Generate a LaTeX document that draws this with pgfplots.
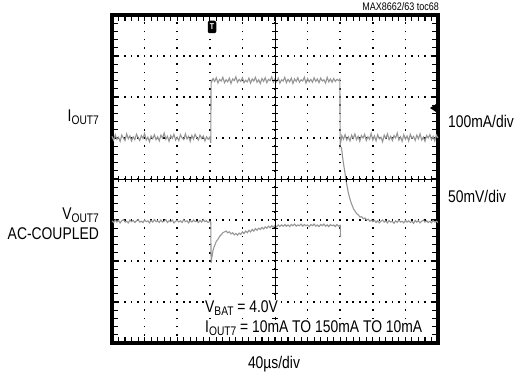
\documentclass[border=0pt]{standalone}
\usepackage{pgfplots}
\pgfplotsset{compat=1.18}
\usepackage{pgfplotstable}
\usepackage{fontspec}
\setmainfont{Liberation Sans}[FakeStretch=0.82]

\definecolor{trace}{RGB}{150,150,150}
\newcommand{\lbl}{\fontsize{17}{19}\selectfont}
\newcommand{\sub}[1]{\raisebox{-2.2bp}{\fontsize{12.5}{13}\selectfont #1}}

% I_OUT7, 100mA/div, x in divisions (40us/div)
\pgfplotstableread{
x y
0.00 1.04
0.05 0.95
0.10 1.08
0.15 0.97
0.20 1.02
0.25 0.92
0.30 1.07
0.35 1.00
0.40 0.94
0.45 1.10
0.50 0.98
0.55 1.05
0.60 0.93
0.65 1.03
0.70 0.96
0.75 1.09
0.80 1.01
0.85 0.94
0.90 1.06
0.95 0.99
1.00 1.11
1.05 0.95
1.10 1.02
1.15 0.91
1.20 1.05
1.25 0.98
1.30 1.08
1.35 0.96
1.40 1.03
1.45 0.93
1.50 1.07
1.55 1.00
1.60 1.12
1.65 0.97
1.70 1.04
1.75 0.92
1.80 1.06
1.85 0.99
1.90 1.09
1.95 0.95
2.00 1.02
2.05 0.94
2.10 1.08
2.15 1.00
2.20 0.96
2.25 1.10
2.30 0.98
2.35 1.04
2.40 0.92
2.45 1.06
2.50 0.97
2.55 1.09
2.60 1.01
2.65 0.95
2.70 1.07
2.75 0.99
2.80 1.05
2.85 0.93
2.90 1.03
2.95 0.97
3.00 1.02
3.03 0.88
3.04 2.42
3.05 2.36
3.10 2.45
3.15 2.38
3.20 2.47
3.25 2.34
3.30 2.43
3.35 2.39
3.40 2.48
3.45 2.35
3.50 2.42
3.55 2.37
3.60 2.46
3.65 2.33
3.70 2.44
3.75 2.40
3.80 2.49
3.85 2.36
3.90 2.43
3.95 2.38
4.00 2.47
4.05 2.35
4.10 2.41
4.15 2.37
4.20 2.46
4.25 2.34
4.30 2.44
4.35 2.39
4.40 2.48
4.45 2.36
4.50 2.42
4.55 2.33
4.60 2.45
4.65 2.38
4.70 2.47
4.75 2.35
4.80 2.43
4.85 2.40
4.90 2.49
4.95 2.36
5.00 2.44
5.05 2.37
5.10 2.46
5.15 2.34
5.20 2.42
5.25 2.39
5.30 2.48
5.35 2.35
5.40 2.43
5.45 2.37
5.50 2.46
5.55 2.33
5.60 2.44
5.65 2.38
5.70 2.47
5.75 2.36
5.80 2.42
5.85 2.39
5.90 2.48
5.95 2.34
6.00 2.45
6.05 2.37
6.10 2.43
6.15 2.36
6.20 2.47
6.25 2.38
6.30 2.44
6.35 2.35
6.40 2.46
6.45 2.39
6.50 2.42
6.55 2.34
6.60 2.48
6.65 2.37
6.70 2.44
6.75 2.36
6.80 2.45
6.85 2.38
6.90 2.43
6.95 2.40
6.99 2.44
7.00 0.84
7.03 0.95
7.05 1.06
7.10 0.97
7.15 1.08
7.20 0.95
7.25 1.03
7.30 0.93
7.35 1.07
7.40 0.99
7.45 1.10
7.50 0.96
7.55 1.04
7.60 0.92
7.65 1.06
7.70 1.00
7.75 1.09
7.80 0.94
7.85 1.03
7.90 0.97
7.95 1.11
8.00 0.95
8.05 1.05
8.10 0.93
8.15 1.08
8.20 0.98
8.25 1.02
8.30 0.91
8.35 1.07
8.40 0.99
8.45 1.10
8.50 0.96
8.55 1.04
8.60 0.94
8.65 1.06
8.70 1.00
8.75 1.12
8.80 0.95
8.85 1.03
8.90 0.92
8.95 1.08
9.00 0.97
9.05 1.05
9.10 0.93
9.15 1.09
9.20 0.99
9.25 1.04
9.30 0.94
9.35 1.07
9.40 0.98
9.45 1.10
9.50 0.95
9.55 1.02
9.60 0.92
9.65 1.06
9.70 1.00
9.75 1.08
9.80 0.96
9.85 1.04
9.90 0.93
9.95 1.07
10.00 1.00
}\curtab

% V_OUT7 AC-coupled, 50mV/div, up to the load release
\pgfplotstableread{
x y
0.00 -1.02
0.05 -1.06
0.10 -1.00
0.15 -1.05
0.20 -1.01
0.25 -1.07
0.30 -1.02
0.35 -0.99
0.40 -1.05
0.45 -1.03
0.50 -1.07
0.55 -1.00
0.60 -1.04
0.65 -1.01
0.70 -1.06
0.75 -1.02
0.80 -0.99
0.85 -1.05
0.90 -1.03
0.95 -1.06
1.00 -1.00
1.05 -1.04
1.10 -1.02
1.15 -1.07
1.20 -1.01
1.25 -1.05
1.30 -0.99
1.35 -1.04
1.40 -1.02
1.45 -1.06
1.50 -1.00
1.55 -1.05
1.60 -1.03
1.65 -0.99
1.70 -1.06
1.75 -1.02
1.80 -1.04
1.85 -1.00
1.90 -1.07
1.95 -1.03
2.00 -1.01
2.05 -1.05
2.10 -1.02
2.15 -1.06
2.20 -0.99
2.25 -1.04
2.30 -1.02
2.35 -1.07
2.40 -1.01
2.45 -1.05
2.50 -1.00
2.55 -1.04
2.60 -1.03
2.65 -1.06
2.70 -1.01
2.75 -1.05
2.80 -0.99
2.85 -1.04
2.90 -1.02
2.95 -1.06
3.00 -1.03
3.03 -1.05
3.04 -2.05
3.06 -1.92
3.08 -1.84
3.10 -1.74
3.13 -1.66
3.16 -1.60
3.20 -1.52
3.25 -1.47
3.30 -1.40
3.35 -1.36
3.40 -1.31
3.45 -1.29
3.50 -1.27
3.55 -1.31
3.60 -1.29
3.65 -1.34
3.70 -1.31
3.75 -1.36
3.80 -1.33
3.85 -1.37
3.90 -1.32
3.95 -1.35
4.00 -1.29
4.05 -1.33
4.10 -1.27
4.15 -1.31
4.20 -1.25
4.25 -1.29
4.30 -1.23
4.35 -1.27
4.40 -1.21
4.45 -1.25
4.50 -1.20
4.55 -1.23
4.60 -1.18
4.65 -1.22
4.70 -1.17
4.75 -1.20
4.80 -1.15
4.85 -1.19
4.90 -1.14
4.95 -1.18
5.00 -1.13
5.05 -1.17
5.10 -1.12
5.15 -1.16
5.20 -1.12
5.25 -1.15
5.30 -1.11
5.35 -1.15
5.40 -1.12
5.45 -1.16
5.50 -1.11
5.55 -1.14
5.60 -1.10
5.65 -1.15
5.70 -1.12
5.75 -1.14
5.80 -1.10
5.85 -1.15
5.90 -1.11
5.95 -1.14
6.00 -1.12
6.05 -1.16
6.10 -1.11
6.15 -1.14
6.20 -1.10
6.25 -1.15
6.30 -1.12
6.35 -1.16
6.40 -1.11
6.45 -1.14
6.50 -1.10
6.55 -1.15
6.60 -1.12
6.65 -1.16
6.70 -1.11
6.75 -1.14
6.80 -1.12
6.85 -1.16
6.90 -1.11
6.95 -1.15
7.00 -1.13
7.01 -1.42
}\voltaba

% V_OUT7 after the load release
\pgfplotstableread{
x y
7.03 0.78
7.05 0.70
7.07 0.55
7.09 0.44
7.12 0.28
7.15 0.13
7.18 -0.04
7.21 -0.17
7.25 -0.34
7.29 -0.46
7.33 -0.57
7.37 -0.65
7.41 -0.73
7.46 -0.79
7.51 -0.85
7.56 -0.88
7.61 -0.93
7.66 -0.92
7.71 -0.97
7.76 -0.95
7.81 -1.00
7.86 -0.98
7.91 -1.03
7.96 -1.00
8.00 -1.04
8.05 -1.01
8.10 -1.06
8.15 -1.02
8.20 -1.07
8.25 -1.03
8.30 -1.00
8.35 -1.05
8.40 -1.02
8.45 -1.07
8.50 -1.01
8.55 -1.05
8.60 -1.03
8.65 -1.08
8.70 -1.02
8.75 -1.06
8.80 -1.00
8.85 -1.05
8.90 -1.03
8.95 -1.07
9.00 -1.01
9.05 -1.05
9.10 -1.02
9.15 -1.06
9.20 -1.03
9.25 -1.08
9.30 -1.01
9.35 -1.05
9.40 -1.02
9.45 -1.07
9.50 -1.03
9.55 -1.00
9.60 -1.05
9.65 -1.02
9.70 -1.06
9.75 -1.03
9.80 -1.07
9.85 -1.01
9.90 -1.05
9.95 -1.03
10.00 -1.06
}\voltabb

\begin{document}
\begin{tikzpicture}
\useasboundingbox (0,0) rectangle (518bp,378bp);
% screen frame, dotted graticule and traces
\begin{axis}[
  at={(112bp,35bp)}, anchor=south west,
  scale only axis, width=326bp, height=328bp,
  xmin=0, xmax=10, ymin=-4, ymax=4,
  xtick={0,...,10}, ytick={-4,...,4},
  minor x tick num=4, minor y tick num=4,
  xticklabels={}, yticklabels={},
  xtick pos=both, ytick pos=both,
  tick align=inside,
  major tick length=6bp, minor tick length=6bp,
  tick style={black, line width=1.1bp},
  axis line style={line width=3.2bp},
  xmajorgrids, ymajorgrids,
  major x grid style={black, line width=1.6bp, line cap=butt, dash pattern=on 1.6bp off 6.6bp, dash phase=0.8bp},
  major y grid style={black, line width=1.6bp, line cap=butt, dash pattern=on 1.6bp off 4.92bp, dash phase=0.8bp},
  clip=false,
]
\addplot[trace, line width=1.1bp] table {\curtab};
\addplot[trace, line width=1.1bp] table {\voltaba};
\addplot[trace, line width=1.1bp] table {\voltabb};
\end{axis}
% centre cross of the graticule with its small ticks
\begin{axis}[
  at={(112bp,35bp)}, anchor=south west,
  scale only axis, width=326bp, height=328bp,
  xmin=-5, xmax=5, ymin=-4, ymax=4,
  axis lines=middle,
  axis line style={-, line width=1bp, black},
  xtick={-5,...,5}, ytick={-4,...,4},
  minor x tick num=4, minor y tick num=4,
  xticklabels={}, yticklabels={},
  tick align=center,
  major tick length=6bp, minor tick length=6bp,
  tick style={black, line width=1bp},
]
\end{axis}

% trigger marker and trigger level arrow
\node[fill=black, text=white, rounded corners=2bp, inner sep=0pt,
      minimum width=8.5bp, minimum height=12.5bp,
      font=\fontsize{8.5}{8.5}\selectfont\bfseries] at (212bp,351bp) {T};
\fill (430bp,270bp) -- (436bp,274bp) -- (436bp,266bp) -- cycle;
\draw[line width=1.5bp] (434bp,270bp) -- (439bp,270bp);

% labels
\node[anchor=base east, font=\fontsize{11}{12}\selectfont, inner sep=0pt] at (439bp,367bp) {MAX8662/63 toc68};
\node[anchor=base east, font=\lbl, inner sep=0pt] at (99bp,256bp) {I\sub{OUT7}};
\node[anchor=base east, font=\lbl, inner sep=0pt] at (99bp,158bp) {V\sub{OUT7}};
\node[anchor=base east, font=\lbl, inner sep=0pt] at (99bp,138bp) {AC-COUPLED};
\node[anchor=base west, font=\lbl, inner sep=0pt] at (448bp,250bp) {100mA/div};
\node[anchor=base west, font=\lbl, inner sep=0pt] at (448bp,175bp) {50mV/div};
\node[anchor=base, font=\lbl, inner sep=0pt] at (274bp,10bp) {40µs/div};
\node[anchor=base west, font=\lbl, fill=white, inner sep=1.5bp] at (203.5bp,65bp) {V\sub{BAT} = 4.0V};
\node[anchor=base west, font=\lbl, fill=white, inner sep=1.5bp] at (203.5bp,45bp) {I\sub{OUT7} = 10mA TO 150mA TO 10mA};
\end{tikzpicture}
\end{document}
